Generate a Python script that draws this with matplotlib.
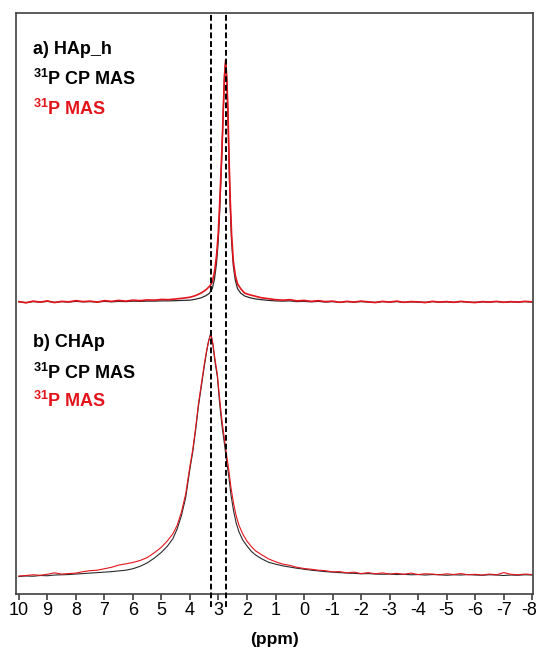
import matplotlib
matplotlib.use("Agg")
import matplotlib.pyplot as plt
from matplotlib.transforms import ScaledTranslation

plt.rcParams['font.family'] = ['Liberation Sans', 'DejaVu Sans']
plt.rcParams['axes.unicode_minus'] = False
plt.rcParams['mathtext.fontset'] = 'custom'
plt.rcParams['mathtext.rm'] = 'Liberation Sans:bold'
plt.rcParams['mathtext.bf'] = 'Liberation Sans:bold'

# a) HAp_h : chemical shift (ppm) and relative intensity
hap_ppm = [10.0, 9.75, 9.5, 9.25, 9.0, 8.75, 8.5, 8.25, 8.0, 7.75, 7.5, 7.25, 7.0,
           6.75, 6.5, 6.25, 6.0, 5.75, 5.5, 5.25, 5.0, 4.75, 4.5, 4.25, 4.0,
           3.8, 3.6, 3.45, 3.32, 3.22, 3.14, 3.07, 3.01, 2.96, 2.91, 2.87, 2.83, 2.79,
           2.75, 2.71, 2.67, 2.63, 2.59, 2.54, 2.48, 2.41, 2.33, 2.22, 2.08, 1.9, 1.7,
           1.5, 1.25, 1.0, 0.75, 0.5, 0.25, 0.0, -0.25, -0.5, -0.75, -1.0, -1.25, -1.5,
           -1.75, -2.0, -2.25, -2.5, -2.75, -3.0, -3.25, -3.5, -3.75, -4.0, -4.25, -4.5,
           -4.75, -5.0, -5.25, -5.5, -5.75, -6.0, -6.25, -6.5, -6.75, -7.0, -7.25, -7.5,
           -7.75, -8.0]
hap_cp = [0.001, -0.002, 0.002, 0.000, 0.003, -0.001, 0.002, 0.000, 0.003, 0.001, 0.002, 0.000, 0.003,
          0.001, 0.003, 0.002, 0.004, 0.003, 0.004, 0.004, 0.005, 0.005, 0.006, 0.007, 0.008,
          0.012, 0.018, 0.026, 0.036, 0.055, 0.095, 0.16, 0.25, 0.37, 0.52, 0.65, 0.80, 0.94,
          0.99, 0.92, 0.78, 0.57, 0.40, 0.25, 0.15, 0.09, 0.055, 0.037, 0.025, 0.018, 0.013,
          0.010, 0.007, 0.005, 0.004, 0.005, 0.002, 0.003, 0.001, 0.003, 0.000, 0.002, -0.001, 0.002,
          0.000, 0.002, 0.000, -0.001, 0.002, 0.000, 0.002, -0.001, 0.001, 0.000, -0.001, 0.002,
          0.000, 0.001, -0.001, 0.002, 0.000, -0.001, 0.001, 0.000, 0.002, -0.001, 0.001, 0.000,
          0.002, 0.000]
hap_mas = [0.002, -0.003, 0.004, 0.000, 0.005, -0.002, 0.003, 0.001, 0.006, 0.002, 0.004, 0.000, 0.006,
           0.003, 0.007, 0.004, 0.008, 0.006, 0.009, 0.008, 0.011, 0.010, 0.013, 0.016, 0.020,
           0.027, 0.038, 0.050, 0.064, 0.082, 0.125, 0.19, 0.28, 0.40, 0.54, 0.66, 0.80, 0.93,
           1.0, 0.93, 0.80, 0.60, 0.43, 0.28, 0.17, 0.11, 0.075, 0.055, 0.037, 0.030, 0.024,
           0.018, 0.014, 0.010, 0.008, 0.010, 0.005, 0.007, 0.003, 0.006, 0.002, 0.004, -0.001, 0.003,
           0.000, 0.004, 0.001, -0.002, 0.003, 0.000, 0.004, -0.001, 0.002, 0.001, -0.002, 0.003,
           0.000, 0.002, -0.001, 0.003, 0.000, -0.002, 0.002, 0.000, 0.003, -0.001, 0.002, 0.000,
           0.003, 0.001]

# b) CHAp
chap_ppm = [10.0, 9.75, 9.5, 9.25, 9.0, 8.75, 8.5, 8.25, 8.0, 7.75, 7.5, 7.25, 7.0,
            6.75, 6.5, 6.25, 6.0, 5.75, 5.5, 5.25, 5.0, 4.8, 4.6, 4.45, 4.3, 4.15, 4.0,
            3.9, 3.8, 3.7, 3.6, 3.5, 3.42, 3.35, 3.27, 3.2, 3.12, 3.04, 2.96, 2.88, 2.8,
            2.72, 2.64, 2.56, 2.47, 2.38, 2.28, 2.15, 2.0, 1.85, 1.7, 1.5, 1.25, 1.0, 0.75,
            0.5, 0.25, 0.0, -0.25, -0.5, -0.75, -1.0, -1.25, -1.5, -1.75, -2.0, -2.25, -2.5,
            -2.75, -3.0, -3.25, -3.5, -3.75, -4.0, -4.25, -4.5, -4.75, -5.0, -5.25, -5.5,
            -5.75, -6.0, -6.25, -6.5, -6.75, -7.0, -7.25, -7.5, -7.75, -8.0]
chap_cp = [-0.006, -0.004, -0.005, -0.002, -0.003, 0.000, 0.001, 0.002, 0.004, 0.006, 0.008, 0.010, 0.012,
           0.014, 0.017, 0.020, 0.026, 0.036, 0.050, 0.070, 0.094, 0.118, 0.150, 0.19, 0.245, 0.32, 0.44,
           0.51, 0.60, 0.70, 0.78, 0.86, 0.92, 0.965, 1.0, 0.955, 0.88, 0.82, 0.71, 0.62, 0.55,
           0.475, 0.41, 0.33, 0.265, 0.215, 0.178, 0.145, 0.12, 0.098, 0.083, 0.068, 0.053, 0.045, 0.038,
           0.033, 0.028, 0.024, 0.020, 0.017, 0.014, 0.012, 0.010, 0.008, 0.007, 0.005, 0.006, 0.004,
           0.003, 0.004, 0.002, 0.003, 0.001, 0.002, 0.000, 0.002, 0.001, -0.001, 0.001, 0.000,
           0.002, 0.000, -0.001, 0.001, 0.000, -0.002, 0.000, -0.001, 0.001, 0.000]
chap_mas = [-0.004, -0.002, 0.001, -0.001, 0.003, 0.009, 0.004, 0.006, 0.008, 0.014, 0.018, 0.020, 0.026,
            0.032, 0.041, 0.046, 0.052, 0.060, 0.072, 0.092, 0.115, 0.14, 0.17, 0.205, 0.26, 0.335, 0.45,
            0.52, 0.61, 0.71, 0.79, 0.87, 0.925, 0.965, 0.995, 0.96, 0.89, 0.83, 0.73, 0.64, 0.57,
            0.50, 0.435, 0.36, 0.295, 0.245, 0.205, 0.17, 0.14, 0.118, 0.10, 0.085, 0.067, 0.055, 0.045,
            0.040, 0.032, 0.027, 0.024, 0.020, 0.018, 0.013, 0.014, 0.009, 0.012, 0.006, 0.010, 0.005,
            0.009, 0.004, 0.007, 0.003, 0.008, 0.002, 0.005, 0.004, 0.001, 0.005, 0.002, 0.006,
            0.001, 0.003, 0.000, 0.004, 0.001, 0.010, 0.003, 0.001, 0.004, 0.002]

ref_lines = [3.25, 2.75]
xticks = list(range(10, -9, -1))

top_offset = 1.128
black = '#2b2b2b'
red = '#e3141c'

fig = plt.figure(figsize=(5.39, 6.48), dpi=100)
ax = fig.add_axes([0.0297, 0.0833, 0.9592, 0.8971])

ax.plot(chap_ppm, chap_cp, color=black, lw=0.8)
ax.plot(chap_ppm, chap_mas, color=red, lw=0.8)
ax.plot(hap_ppm, [v + top_offset for v in hap_cp], color=black, lw=0.9)
ax.plot(hap_ppm, [v + top_offset for v in hap_mas], color=red, lw=1.2)

for x in ref_lines:
    ax.axvline(x, ymin=-0.022, ymax=1, color='black', lw=1.4, ls=(0, (3, 1.5)),
               clip_on=False, zorder=5)

ax.set_xlim(10.1, -8.03)
ax.set_ylim(-0.0785, 2.324)
ax.set_yticks([])
ax.set_xticks(xticks)
ax.set_xticklabels([str(t) for t in xticks], fontsize=13)
ax.tick_params(axis='x', direction='out', length=4, width=1.2, color='#404040', pad=2)
# keep the last label ("-8") inside the figure
last = ax.get_xticklabels()[-1]
last.set_transform(last.get_transform() + ScaledTranslation(-3 / 100, 0, fig.dpi_scale_trans))
for s in ax.spines.values():
    s.set_color('#404040')
    s.set_linewidth(1.2)
ax.set_xlabel('(ppm)', fontsize=12.5, fontweight='bold', labelpad=9)

labels = [(0.924, 'a) HAp_h', 'black'), (0.878, r'$^{31}$P CP MAS', 'black'),
          (0.832, r'$^{31}$P MAS', red),
          (0.471, 'b) CHAp', 'black'), (0.425, r'$^{31}$P CP MAS', 'black'),
          (0.381, r'$^{31}$P MAS', red)]
for y, txt, c in labels:
    fig.text(0.061, y, txt, color=c, fontsize=13, fontweight='bold', va='center', ha='left')

fig.savefig('out.png', dpi=100)
